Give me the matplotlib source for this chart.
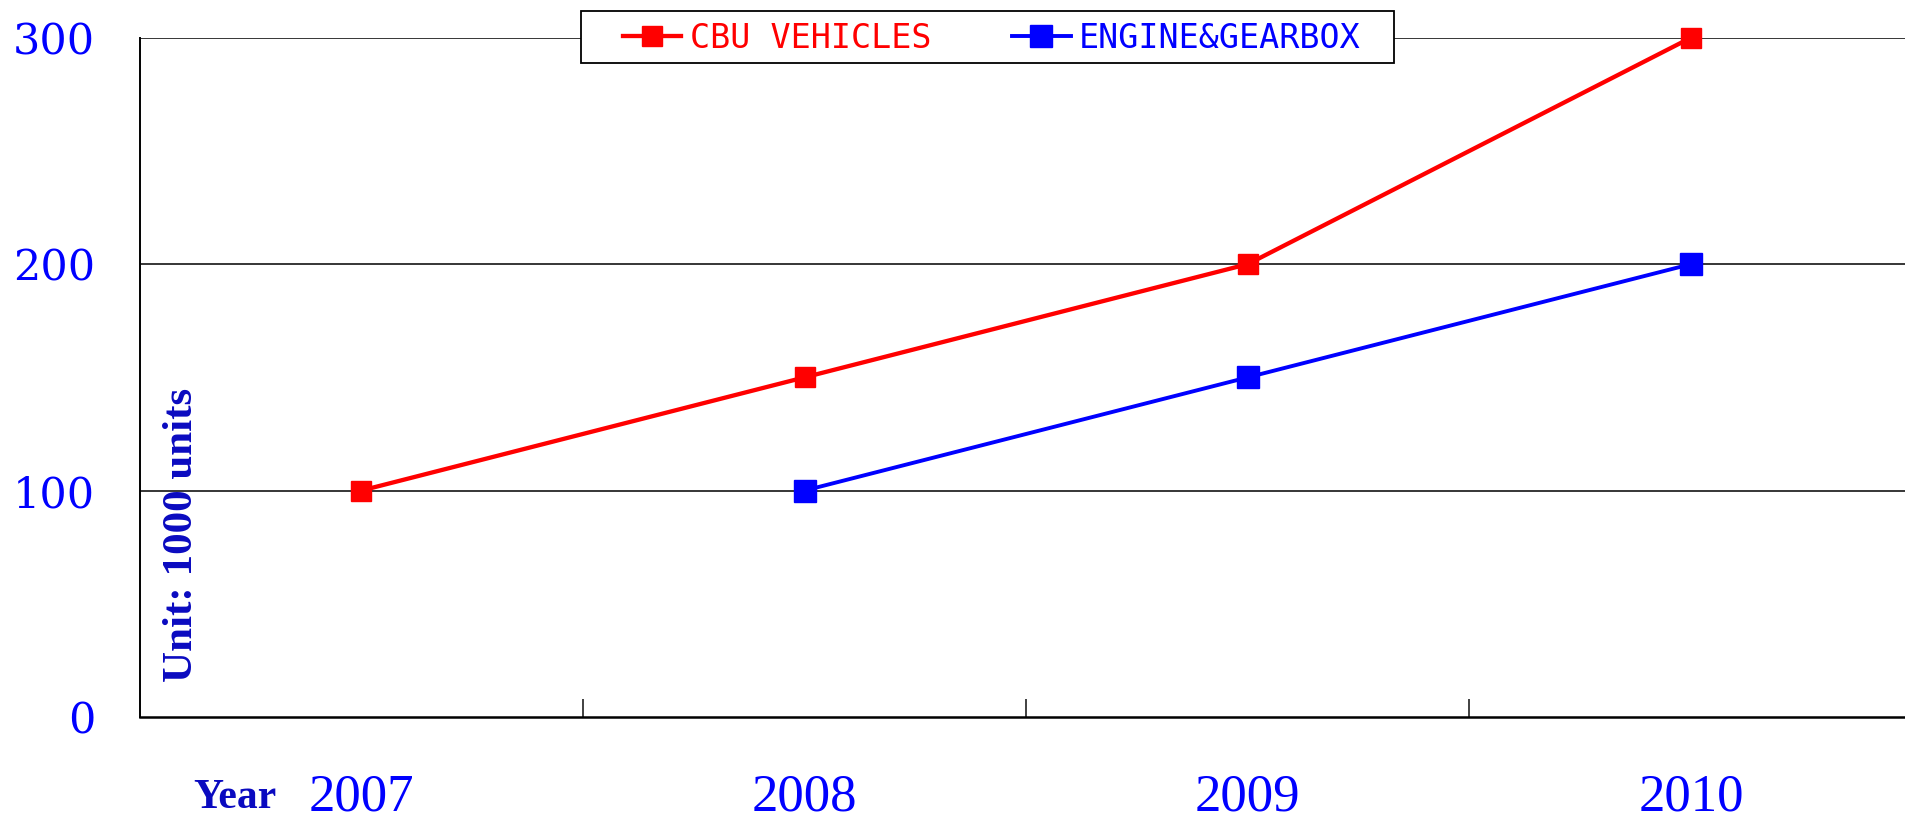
import matplotlib
matplotlib.use("Agg")
import matplotlib.pyplot as plt
import numpy as np
from matplotlib.patches import Rectangle

years = ["2007", "2008", "2009", "2010"]
cbu_vehicles = [100, 150, 200, 300]
engine_gearbox = [np.nan, 100, 150, 200]
y_ticks = [0, 100, 200, 300]

W, H = 1905, 821
fig = plt.figure(figsize=(W / 100, H / 100), dpi=100)
left, right, top, bottom = 139.7, 1912.6, 37.7, 717.0
ax = fig.add_axes([left / W, 1 - bottom / H, (right - left) / W, (bottom - top) / H])

x = np.arange(len(years)) + 0.5
l1, = ax.plot(x, cbu_vehicles, color="#FF0000", lw=3.1, marker="s", ms=13.7,
              clip_on=False, zorder=3, label="CBU VEHICLES")
l2, = ax.plot(x, engine_gearbox, color="#0000FF", lw=2.8, marker="s", ms=16,
              clip_on=False, zorder=3, label="ENGINE&GEARBOX")

ax.set_xlim(0, len(years))
ax.set_ylim(0, 300)
ax.set_yticks(y_ticks)
ax.set_yticklabels([str(v) for v in y_ticks], family="DejaVu Serif", fontsize=31, color="#0000FF")
ax.tick_params(axis="y", length=0, pad=32)
ax.set_xticks(x)
ax.set_xticklabels(years, family="Liberation Serif", fontsize=38, color="#0000FF")
ax.tick_params(axis="x", which="major", length=0, pad=41)
ax.set_xticks([1, 2, 3], minor=True)
ax.tick_params(axis="x", which="minor", direction="in", length=13, width=1.3, color="#333333")

for v in y_ticks[1:]:
    ax.axhline(v, color="black", lw=1.1, zorder=1)
ax.spines["top"].set_visible(False)
ax.spines["right"].set_visible(False)
ax.spines["left"].set_linewidth(1.4)
ax.spines["bottom"].set_linewidth(1.8)

# Legend frame and legend
rx0, rx1, ry0, ry1 = 581, 1394, 11, 63
fig.patches.append(Rectangle((rx0 / W, 1 - ry1 / H), (rx1 - rx0) / W, (ry1 - ry0) / H,
                             transform=fig.transFigure, facecolor="white",
                             edgecolor="black", lw=1.3, zorder=4.5))
leg = fig.legend(handles=[l1, l2], loc="center left", bbox_to_anchor=(623 / W, 1 - 38 / H),
                 ncol=2, frameon=False, borderpad=0, borderaxespad=0,
                 handlelength=1.75, handletextpad=0.25, columnspacing=2.43,
                 prop={"family": "DejaVu Sans Mono", "size": 24})
leg.set_zorder(6)
for t, c in zip(leg.get_texts(), ["#FF0000", "#0000FF"]):
    t.set_color(c)

fig.text(182 / W, 1 - 535 / H, "Unit: 1000 units", rotation=90, ha="center", va="center",
         family="Liberation Serif", weight="bold", fontsize=31, color="#0A0AC0")
fig.text(235 / W, 1 - 808 / H, "Year", ha="center", va="baseline",
         family="Liberation Serif", weight="bold", fontsize=30, color="#0A0AC0")

fig.savefig("out.png", dpi=100)
